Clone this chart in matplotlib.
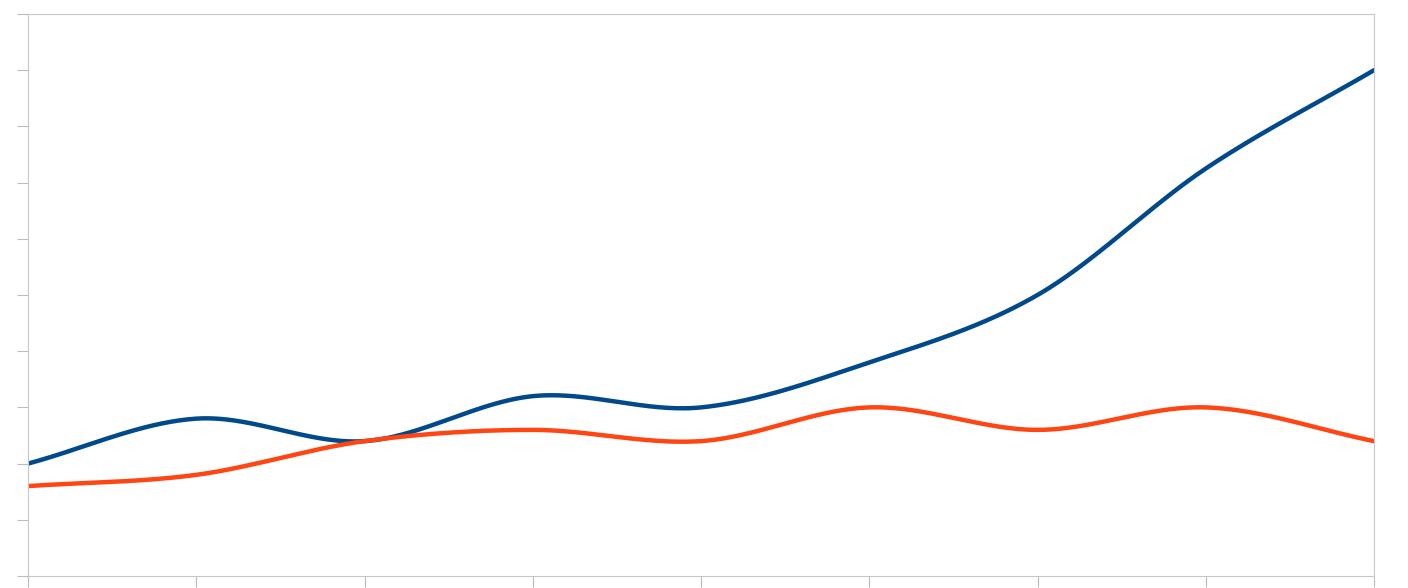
import numpy as np
import matplotlib
matplotlib.use("Agg")
import matplotlib.pyplot as plt

x_cats = list(range(9))
blue = [2.0, 2.8, 2.4, 3.2, 3.0, 3.8, 5.0, 7.25, 9.0]
orange = [1.6, 1.8, 2.4, 2.6, 2.4, 3.0, 2.6, 3.0, 2.4]

def catmull(xs, ys, n=60):
    xs = np.asarray(xs, float); ys = np.asarray(ys, float)
    px = np.concatenate([[2*xs[0]-xs[1]], xs, [2*xs[-1]-xs[-2]]])
    py = np.concatenate([[2*ys[0]-ys[1]], ys, [2*ys[-1]-ys[-2]]])
    ox, oy = [], []
    t = np.linspace(0, 1, n)
    for i in range(1, len(px)-2):
        for p, o in ((px, ox), (py, oy)):
            p0, p1, p2, p3 = p[i-1], p[i], p[i+1], p[i+2]
            o.extend(0.5*((2*p1) + (-p0+p2)*t + (2*p0-5*p1+4*p2-p3)*t**2 + (-p0+3*p1-3*p2+p3)*t**3))
    return np.array(ox), np.array(oy)

fig = plt.figure(figsize=(14.08, 5.88), dpi=100)
ax = fig.add_axes([28/1408, 12/588, 1346/1408, 562/588])
bx, by = catmull(x_cats, blue)
ox, oy = catmull(x_cats, orange)
ax.plot(bx, by, color="#004A8C", lw=3.2, solid_capstyle="round")
ax.plot(ox, oy, color="#FF4512", lw=3.2, solid_capstyle="round")
ax.set_xlim(0, 8)
ax.set_ylim(0, 10)
ax.set_xticks(x_cats)
ax.set_yticks(range(11))
ax.tick_params(axis="both", length=8, color="#BBBBBB", labelbottom=False, labelleft=False)
for s in ax.spines.values():
    s.set_color("#C8C8C8")
fig.savefig("out.png", dpi=100)
